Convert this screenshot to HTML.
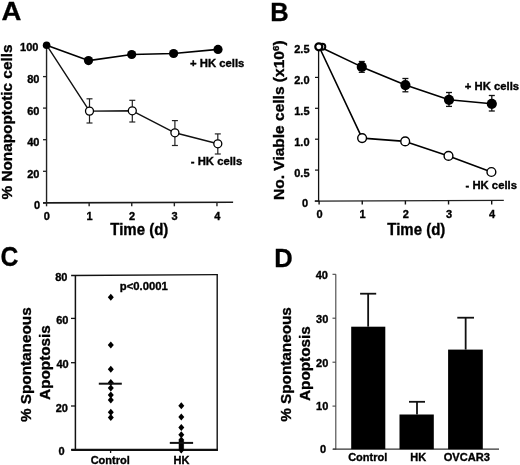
<!DOCTYPE html>
<html><head><meta charset="utf-8"><style>
html,body{margin:0;padding:0;background:#fff;}
svg{display:block;filter:grayscale(1);}
text{font-family:"Liberation Sans", sans-serif;font-weight:bold;fill:#000;}
</style></head><body>
<svg width="520" height="465" viewBox="0 0 520 465">
<rect width="520" height="465" fill="#fff"/>
<text transform="translate(1.5,20.4) scale(1.08,1.0)" font-size="25.5" text-anchor="start" stroke="#000" stroke-width="0.278">A</text>
<line x1="46.55" y1="45" x2="46.55" y2="203.5" stroke="#222" stroke-width="1.4"/>
<line x1="43" y1="202.9" x2="233.1" y2="202.3" stroke="#1a1a1a" stroke-width="1.6"/>
<line x1="43" y1="45.2" x2="46.55" y2="45.2" stroke="#222" stroke-width="1.3"/>
<text transform="translate(38.4,50.800000000000004) scale(1.0,1.0)" font-size="11" text-anchor="end" stroke="#000" stroke-width="0.350">100</text>
<line x1="43" y1="76.6" x2="46.55" y2="76.6" stroke="#222" stroke-width="1.3"/>
<text transform="translate(39.4,83.0) scale(1.0,1.0)" font-size="11" text-anchor="end" stroke="#000" stroke-width="0.350">80</text>
<line x1="43" y1="108.1" x2="46.55" y2="108.1" stroke="#222" stroke-width="1.3"/>
<text transform="translate(39.4,114.5) scale(1.0,1.0)" font-size="11" text-anchor="end" stroke="#000" stroke-width="0.350">60</text>
<line x1="43" y1="139.7" x2="46.55" y2="139.7" stroke="#222" stroke-width="1.3"/>
<text transform="translate(39.4,146.1) scale(1.0,1.0)" font-size="11" text-anchor="end" stroke="#000" stroke-width="0.350">40</text>
<line x1="43" y1="171.3" x2="46.55" y2="171.3" stroke="#222" stroke-width="1.3"/>
<text transform="translate(39.4,177.70000000000002) scale(1.0,1.0)" font-size="11" text-anchor="end" stroke="#000" stroke-width="0.350">20</text>
<line x1="43" y1="202.8" x2="46.55" y2="202.8" stroke="#222" stroke-width="1.3"/>
<text transform="translate(40.2,209.20000000000002) scale(1.0,1.0)" font-size="11" text-anchor="end" stroke="#000" stroke-width="0.350">0</text>
<line x1="46.55" y1="202.3" x2="46.55" y2="206.3" stroke="#222" stroke-width="1.4"/>
<text transform="translate(46.849999999999994,219.6) scale(1.0,1.0)" font-size="11" text-anchor="middle" stroke="#000" stroke-width="0.350">0</text>
<line x1="89.15" y1="202.3" x2="89.15" y2="206.3" stroke="#222" stroke-width="1.4"/>
<text transform="translate(89.45,219.6) scale(1.0,1.0)" font-size="11" text-anchor="middle" stroke="#000" stroke-width="0.350">1</text>
<line x1="131.75" y1="202.3" x2="131.75" y2="206.3" stroke="#222" stroke-width="1.4"/>
<text transform="translate(132.05,219.6) scale(1.0,1.0)" font-size="11" text-anchor="middle" stroke="#000" stroke-width="0.350">2</text>
<line x1="174.35000000000002" y1="202.3" x2="174.35000000000002" y2="206.3" stroke="#222" stroke-width="1.4"/>
<text transform="translate(174.65000000000003,219.6) scale(1.0,1.0)" font-size="11" text-anchor="middle" stroke="#000" stroke-width="0.350">3</text>
<line x1="216.95" y1="202.3" x2="216.95" y2="206.3" stroke="#222" stroke-width="1.4"/>
<text transform="translate(217.25,219.6) scale(1.0,1.0)" font-size="11" text-anchor="middle" stroke="#000" stroke-width="0.350">4</text>
<text transform="translate(139.3,234.8) scale(1.0,1.06)" font-size="15" text-anchor="middle" stroke="#000" stroke-width="0.330">Time (d)</text>
<text transform="translate(12.4,122) rotate(-90) scale(1.05,1.0)" font-size="14.6" text-anchor="middle" stroke="#000" stroke-width="0.333">% Nonapoptotic cells</text>
<line x1="89.5" y1="98.8" x2="89.5" y2="123" stroke="#222" stroke-width="1.2"/>
<line x1="86.5" y1="98.8" x2="92.5" y2="98.8" stroke="#222" stroke-width="1.2"/>
<line x1="86.5" y1="123" x2="92.5" y2="123" stroke="#222" stroke-width="1.2"/>
<line x1="132.3" y1="100.3" x2="132.3" y2="122" stroke="#222" stroke-width="1.2"/>
<line x1="129.3" y1="100.3" x2="135.3" y2="100.3" stroke="#222" stroke-width="1.2"/>
<line x1="129.3" y1="122" x2="135.3" y2="122" stroke="#222" stroke-width="1.2"/>
<line x1="174.9" y1="120.6" x2="174.9" y2="145.5" stroke="#222" stroke-width="1.2"/>
<line x1="171.9" y1="120.6" x2="177.9" y2="120.6" stroke="#222" stroke-width="1.2"/>
<line x1="171.9" y1="145.5" x2="177.9" y2="145.5" stroke="#222" stroke-width="1.2"/>
<line x1="217.8" y1="133.9" x2="217.8" y2="154" stroke="#222" stroke-width="1.2"/>
<line x1="214.8" y1="133.9" x2="220.8" y2="133.9" stroke="#222" stroke-width="1.2"/>
<line x1="214.8" y1="154" x2="220.8" y2="154" stroke="#222" stroke-width="1.2"/>
<polyline points="46.6,45.2 89.5,111.1 132.3,110.8 174.9,132.8 217.8,143.8" fill="none" stroke="#111" stroke-width="1.4" stroke-linejoin="round"/>
<circle cx="89.5" cy="111.1" r="4.0" fill="#fff" stroke="#000" stroke-width="1.3"/>
<circle cx="132.3" cy="110.8" r="4.0" fill="#fff" stroke="#000" stroke-width="1.3"/>
<circle cx="174.9" cy="132.8" r="4.0" fill="#fff" stroke="#000" stroke-width="1.3"/>
<circle cx="217.8" cy="143.8" r="4.0" fill="#fff" stroke="#000" stroke-width="1.3"/>
<polyline points="46.6,45.2 88.5,60.6 131.7,54.5 173.6,53.5 218,49.4" fill="none" stroke="#000" stroke-width="1.6" stroke-linejoin="round"/>
<circle cx="46.6" cy="45.2" r="3.8" fill="#000"/>
<circle cx="88.5" cy="60.6" r="4.6" fill="#000"/>
<circle cx="131.7" cy="54.5" r="4.6" fill="#000"/>
<circle cx="173.6" cy="53.5" r="4.6" fill="#000"/>
<circle cx="218" cy="49.4" r="4.6" fill="#000"/>
<text transform="translate(190,66.9) scale(1.0,1.0)" font-size="11.3" text-anchor="start" stroke="#000" stroke-width="0.350">+ HK cells</text>
<text transform="translate(190.8,165.4) scale(1.0,1.0)" font-size="11.3" text-anchor="start" stroke="#000" stroke-width="0.350">- HK cells</text>
<text transform="translate(270.3,20.8) scale(1.0,1.0)" font-size="25.5" text-anchor="start" stroke="#000" stroke-width="0.300">B</text>
<line x1="318.6" y1="46" x2="318.6" y2="201.4" stroke="#111" stroke-width="1.3"/>
<line x1="314.7" y1="201.1" x2="503.8" y2="200.3" stroke="#222" stroke-width="1.3"/>
<line x1="315" y1="46.5" x2="318.6" y2="46.5" stroke="#111" stroke-width="1.2"/>
<text transform="translate(309.5,52.9) scale(1.0,1.0)" font-size="11" text-anchor="end" stroke="#000" stroke-width="0.350">2.5</text>
<line x1="315" y1="77.4" x2="318.6" y2="77.4" stroke="#111" stroke-width="1.2"/>
<text transform="translate(309.5,83.80000000000001) scale(1.0,1.0)" font-size="11" text-anchor="end" stroke="#000" stroke-width="0.350">2.0</text>
<line x1="315" y1="108.3" x2="318.6" y2="108.3" stroke="#111" stroke-width="1.2"/>
<text transform="translate(309.5,114.7) scale(1.0,1.0)" font-size="11" text-anchor="end" stroke="#000" stroke-width="0.350">1.5</text>
<line x1="315" y1="139.2" x2="318.6" y2="139.2" stroke="#111" stroke-width="1.2"/>
<text transform="translate(309.5,145.6) scale(1.0,1.0)" font-size="11" text-anchor="end" stroke="#000" stroke-width="0.350">1.0</text>
<line x1="315" y1="170.1" x2="318.6" y2="170.1" stroke="#111" stroke-width="1.2"/>
<text transform="translate(309.5,176.5) scale(1.0,1.0)" font-size="11" text-anchor="end" stroke="#000" stroke-width="0.350">0.5</text>
<line x1="315" y1="201" x2="318.6" y2="201" stroke="#111" stroke-width="1.2"/>
<text transform="translate(308.0,207.4) scale(1.0,1.0)" font-size="11" text-anchor="end" stroke="#000" stroke-width="0.350">0</text>
<line x1="319.1" y1="200.8" x2="319.1" y2="204.5" stroke="#111" stroke-width="1.4"/>
<text transform="translate(319.5,217.6) scale(1.0,1.0)" font-size="11" text-anchor="middle" stroke="#000" stroke-width="0.350">0</text>
<line x1="362.25" y1="200.8" x2="362.25" y2="204.5" stroke="#111" stroke-width="1.4"/>
<text transform="translate(362.65,217.6) scale(1.0,1.0)" font-size="11" text-anchor="middle" stroke="#000" stroke-width="0.350">1</text>
<line x1="405.40000000000003" y1="200.8" x2="405.40000000000003" y2="204.5" stroke="#111" stroke-width="1.4"/>
<text transform="translate(405.8,217.6) scale(1.0,1.0)" font-size="11" text-anchor="middle" stroke="#000" stroke-width="0.350">2</text>
<line x1="448.55" y1="200.8" x2="448.55" y2="204.5" stroke="#111" stroke-width="1.4"/>
<text transform="translate(448.95,217.6) scale(1.0,1.0)" font-size="11" text-anchor="middle" stroke="#000" stroke-width="0.350">3</text>
<line x1="491.70000000000005" y1="200.8" x2="491.70000000000005" y2="204.5" stroke="#111" stroke-width="1.4"/>
<text transform="translate(492.1,217.6) scale(1.0,1.0)" font-size="11" text-anchor="middle" stroke="#000" stroke-width="0.350">4</text>
<text transform="translate(416.3,234.8) scale(1.0,1.06)" font-size="15" text-anchor="middle" stroke="#000" stroke-width="0.330">Time (d)</text>
<text transform="translate(284.2,120.2) rotate(-90) scale(1.035,1.0)" font-size="15" text-anchor="middle" stroke="#000" stroke-width="0.338">No. Viable cells (x10<tspan font-size="9.5" dy="-5">6</tspan><tspan dy="5">)</tspan></text>
<line x1="361.8" y1="61.5" x2="361.8" y2="72.3" stroke="#111" stroke-width="1.3"/>
<line x1="358.8" y1="61.5" x2="364.8" y2="61.5" stroke="#111" stroke-width="1.3"/>
<line x1="358.8" y1="72.3" x2="364.8" y2="72.3" stroke="#111" stroke-width="1.3"/>
<line x1="405.4" y1="78.5" x2="405.4" y2="91.8" stroke="#111" stroke-width="1.3"/>
<line x1="402.4" y1="78.5" x2="408.4" y2="78.5" stroke="#111" stroke-width="1.3"/>
<line x1="402.4" y1="91.8" x2="408.4" y2="91.8" stroke="#111" stroke-width="1.3"/>
<line x1="449" y1="92.5" x2="449" y2="106.4" stroke="#111" stroke-width="1.3"/>
<line x1="446.0" y1="92.5" x2="452.0" y2="92.5" stroke="#111" stroke-width="1.3"/>
<line x1="446.0" y1="106.4" x2="452.0" y2="106.4" stroke="#111" stroke-width="1.3"/>
<line x1="491.8" y1="95.5" x2="491.8" y2="111" stroke="#111" stroke-width="1.3"/>
<line x1="488.8" y1="95.5" x2="494.8" y2="95.5" stroke="#111" stroke-width="1.3"/>
<line x1="488.8" y1="111" x2="494.8" y2="111" stroke="#111" stroke-width="1.3"/>
<polyline points="319,46.5 361.8,66.9 405.4,85.1 449,99.8 491.8,103.8" fill="none" stroke="#000" stroke-width="1.6" stroke-linejoin="round"/>
<circle cx="361.8" cy="66.9" r="5.1" fill="#000"/>
<circle cx="405.4" cy="85.1" r="5.1" fill="#000"/>
<circle cx="449" cy="99.8" r="5.1" fill="#000"/>
<circle cx="491.8" cy="103.8" r="5.1" fill="#000"/>
<polyline points="319,46.5 362.1,138.1 405.2,141.4 448.5,155.9 491.4,172" fill="none" stroke="#000" stroke-width="1.6" stroke-linejoin="round"/>
<circle cx="362.1" cy="138.1" r="4.4" fill="#fff" stroke="#000" stroke-width="1.4"/>
<circle cx="405.2" cy="141.4" r="4.4" fill="#fff" stroke="#000" stroke-width="1.4"/>
<circle cx="448.5" cy="155.9" r="4.4" fill="#fff" stroke="#000" stroke-width="1.4"/>
<circle cx="491.4" cy="172" r="4.4" fill="#fff" stroke="#000" stroke-width="1.4"/>
<circle cx="322.3" cy="46.8" r="3.0" fill="#fff" stroke="#000" stroke-width="2.0"/>
<circle cx="318.8" cy="46.8" r="3.5" fill="#fff" stroke="#000" stroke-width="2.2"/>
<text transform="translate(464.8,89.5) scale(1.0,1.0)" font-size="11.3" text-anchor="start" stroke="#000" stroke-width="0.350">+ HK cells</text>
<text transform="translate(465.5,188.8) scale(1.0,1.0)" font-size="11.3" text-anchor="start" stroke="#000" stroke-width="0.350">- HK cells</text>
<text transform="translate(0.4,266.4) scale(0.97,1.07)" font-size="25.5" text-anchor="start" stroke="#000" stroke-width="0.280">C</text>
<line x1="71.1" y1="275.5" x2="217.9" y2="274.7" stroke="#111" stroke-width="1.3"/>
<line x1="75.4" y1="275.1" x2="75.4" y2="450" stroke="#111" stroke-width="1.5"/>
<line x1="217.2" y1="274.5" x2="217.2" y2="450.8" stroke="#111" stroke-width="1.4"/>
<line x1="71.3" y1="449.9" x2="217.9" y2="449.9" stroke="#111" stroke-width="2.1"/>
<line x1="71" y1="318.4" x2="75.4" y2="318.4" stroke="#111" stroke-width="1.3"/>
<line x1="71" y1="362.7" x2="75.4" y2="362.7" stroke="#111" stroke-width="1.3"/>
<line x1="71" y1="406" x2="75.4" y2="406" stroke="#111" stroke-width="1.3"/>
<line x1="71" y1="449.8" x2="75.4" y2="449.8" stroke="#111" stroke-width="1.3"/>
<text transform="translate(67.5,280.7) scale(1.0,1.0)" font-size="11" text-anchor="end" stroke="#000" stroke-width="0.350">80</text>
<text transform="translate(68.5,323.7) scale(1.0,1.0)" font-size="11" text-anchor="end" stroke="#000" stroke-width="0.350">60</text>
<text transform="translate(68.7,367.7) scale(1.0,1.0)" font-size="11" text-anchor="end" stroke="#000" stroke-width="0.350">40</text>
<text transform="translate(68,412.0) scale(1.0,1.0)" font-size="11" text-anchor="end" stroke="#000" stroke-width="0.350">20</text>
<text transform="translate(64.5,454.7) scale(1.0,1.0)" font-size="11" text-anchor="end" stroke="#000" stroke-width="0.350">0</text>
<line x1="110.6" y1="450" x2="110.6" y2="453" stroke="#111" stroke-width="1.3"/>
<line x1="181.3" y1="450" x2="181.3" y2="453" stroke="#111" stroke-width="1.3"/>
<text transform="translate(110.2,463.9) scale(1.0,1.0)" font-size="11" text-anchor="middle" stroke="#000" stroke-width="0.350">Control</text>
<text transform="translate(181.5,463.6) scale(1.0,1.0)" font-size="11" text-anchor="middle" stroke="#000" stroke-width="0.350">HK</text>
<text transform="translate(119.8,289.9) scale(1.0,1.0)" font-size="11.3" text-anchor="start" stroke="#000" stroke-width="0.350">p&lt;0.0001</text>
<polygon points="110.8,293.7 113.8,297.2 110.8,300.7 107.8,297.2" fill="#000"/>
<polygon points="110.8,341.5 113.8,345 110.8,348.5 107.8,345" fill="#000"/>
<polygon points="110.8,365.8 113.8,369.3 110.8,372.8 107.8,369.3" fill="#000"/>
<polygon points="110.8,379.0 113.8,382.5 110.8,386.0 107.8,382.5" fill="#000"/>
<polygon points="110.8,384.6 113.8,388.1 110.8,391.6 107.8,388.1" fill="#000"/>
<polygon points="110.8,391.4 113.8,394.9 110.8,398.4 107.8,394.9" fill="#000"/>
<polygon points="110.8,396.4 113.8,399.9 110.8,403.4 107.8,399.9" fill="#000"/>
<polygon points="110.8,408.7 113.8,412.2 110.8,415.7 107.8,412.2" fill="#000"/>
<polygon points="110.8,414.0 113.8,417.5 110.8,421.0 107.8,417.5" fill="#000"/>
<line x1="98.8" y1="383.7" x2="121.8" y2="383.7" stroke="#111" stroke-width="2"/>
<polygon points="181.3,402.3 184.3,405.8 181.3,409.3 178.3,405.8" fill="#000"/>
<polygon points="181.3,413.5 184.3,417 181.3,420.5 178.3,417" fill="#000"/>
<polygon points="181.3,424.0 184.3,427.5 181.3,431.0 178.3,427.5" fill="#000"/>
<polygon points="181.3,431.3 184.3,434.8 181.3,438.3 178.3,434.8" fill="#000"/>
<polygon points="181.3,436.5 184.3,440 181.3,443.5 178.3,440" fill="#000"/>
<polygon points="181.3,438.5 184.3,442 181.3,445.5 178.3,442" fill="#000"/>
<polygon points="181.3,440.5 184.3,444 181.3,447.5 178.3,444" fill="#000"/>
<polygon points="181.3,442.5 184.3,446 181.3,449.5 178.3,446" fill="#000"/>
<polygon points="181.3,444.5 184.3,448 181.3,451.5 178.3,448" fill="#000"/>
<polygon points="181.3,446.5 184.3,450 181.3,453.5 178.3,450" fill="#000"/>
<line x1="169.8" y1="442.9" x2="193.1" y2="442.9" stroke="#111" stroke-width="2"/>
<text transform="translate(31.2,364.7) rotate(-90) scale(1.02,1.0)" font-size="15" text-anchor="middle" stroke="#000" stroke-width="0.343">% Spontaneous</text>
<text transform="translate(50,362.5) rotate(-90) scale(1.02,1.0)" font-size="15" text-anchor="middle" stroke="#000" stroke-width="0.343">Apoptosis</text>
<text transform="translate(274.3,266.5) scale(1.0,1.0)" font-size="25.5" text-anchor="start" stroke="#000" stroke-width="0.300">D</text>
<line x1="335.8" y1="274.3" x2="335.8" y2="449.6" stroke="#444" stroke-width="1.1"/>
<line x1="333" y1="449.2" x2="499" y2="449.2" stroke="#333" stroke-width="1.2"/>
<line x1="332.5" y1="274.3" x2="335.8" y2="274.3" stroke="#444" stroke-width="1.1"/>
<line x1="332.5" y1="318.2" x2="335.8" y2="318.2" stroke="#444" stroke-width="1.1"/>
<line x1="332.5" y1="362.2" x2="335.8" y2="362.2" stroke="#444" stroke-width="1.1"/>
<line x1="332.5" y1="406.1" x2="335.8" y2="406.1" stroke="#444" stroke-width="1.1"/>
<line x1="332.5" y1="449.2" x2="335.8" y2="449.2" stroke="#444" stroke-width="1.1"/>
<text transform="translate(328,279.4) scale(1.0,1.0)" font-size="11" text-anchor="end" stroke="#000" stroke-width="0.350">40</text>
<text transform="translate(328.3,323.09999999999997) scale(1.0,1.0)" font-size="11" text-anchor="end" stroke="#000" stroke-width="0.350">30</text>
<text transform="translate(328.3,366.8) scale(1.0,1.0)" font-size="11" text-anchor="end" stroke="#000" stroke-width="0.350">20</text>
<text transform="translate(328.3,410.2) scale(1.0,1.0)" font-size="11" text-anchor="end" stroke="#000" stroke-width="0.350">10</text>
<text transform="translate(326,452.9) scale(1.0,1.0)" font-size="11" text-anchor="end" stroke="#000" stroke-width="0.350">0</text>
<rect x="351.2" y="326.7" width="34.1" height="122.5" fill="#000"/>
<line x1="368.15" y1="293.7" x2="368.15" y2="326.7" stroke="#111" stroke-width="1.8"/>
<line x1="360.1" y1="293.7" x2="376.2" y2="293.7" stroke="#111" stroke-width="1.8"/>
<rect x="399.5" y="414.5" width="34.3" height="34.7" fill="#000"/>
<line x1="417.0" y1="401.8" x2="417.0" y2="414.5" stroke="#111" stroke-width="1.8"/>
<line x1="409" y1="401.8" x2="425" y2="401.8" stroke="#111" stroke-width="1.8"/>
<rect x="448.1" y="349.6" width="34.7" height="99.6" fill="#000"/>
<line x1="465.65" y1="317.7" x2="465.65" y2="349.6" stroke="#111" stroke-width="1.8"/>
<line x1="457.3" y1="317.7" x2="474" y2="317.7" stroke="#111" stroke-width="1.8"/>
<text transform="translate(367.7,461.3) scale(1.0,1.0)" font-size="11" text-anchor="middle" stroke="#000" stroke-width="0.350">Control</text>
<text transform="translate(418.3,461.3) scale(1.0,1.0)" font-size="11" text-anchor="middle" stroke="#000" stroke-width="0.350">HK</text>
<text transform="translate(466.8,461.3) scale(1.0,1.0)" font-size="11.1" text-anchor="middle" stroke="#000" stroke-width="0.350">OVCAR3</text>
<text transform="translate(291.3,364.5) rotate(-90) scale(1.02,1.0)" font-size="15" text-anchor="middle" stroke="#000" stroke-width="0.343">% Spontaneous</text>
<text transform="translate(310,363.6) rotate(-90) scale(1.02,1.0)" font-size="15" text-anchor="middle" stroke="#000" stroke-width="0.343">Apoptosis</text>
</svg>
</body></html>
